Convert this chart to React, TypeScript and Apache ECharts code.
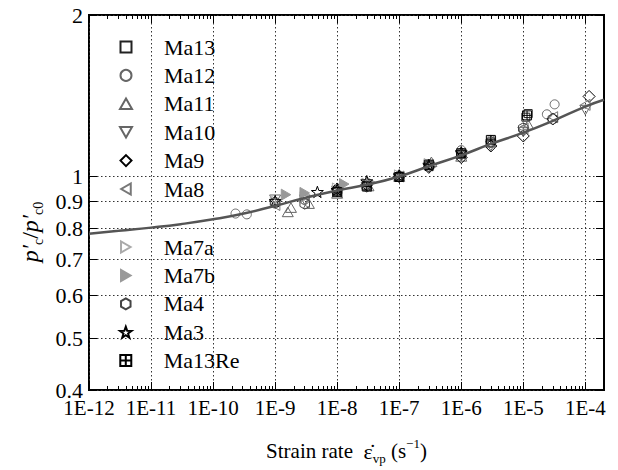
import React, { useEffect, useRef } from 'react';
import * as echarts from 'echarts';

// ---- axis ranges / tick labels ----
const X_MIN = 1e-12;
const X_MAX = 2e-4;
const Y_MIN = 0.4;
const Y_MAX = 2;
const X_MAJOR = [1e-12, 1e-11, 1e-10, 1e-9, 1e-8, 1e-7, 1e-6, 1e-5, 1e-4];
const X_MINOR_MULT = [2, 3, 4, 5, 6, 7, 8, 9];
const Y_TICKS = [0.4, 0.5, 0.6, 0.7, 0.8, 0.9, 1, 2];

// ---- fitted curve ----
const CURVE_RATE = [1e-12, 3e-12, 1e-11, 3e-11, 1e-10, 3e-10, 1e-9, 3e-9, 1e-8, 3e-8, 1e-7, 3e-7, 1e-6, 3e-6, 1e-5, 3e-5, 1e-4, 2e-4];
const CURVE_RATIO = [0.782, 0.792, 0.803, 0.815, 0.832, 0.852, 0.882, 0.912, 0.942, 0.965, 1.0, 1.045, 1.095, 1.15, 1.207, 1.27, 1.35, 1.39];

// ---- measured points [strain rate, p'c/p'c0] ----
const MA13 = [[1e-8, 0.938], [3e-8, 0.962], [1e-7, 0.998], [3e-7, 1.048], [1e-6, 1.1], [3e-6, 1.155], [1.1e-5, 1.29], [1.2e-5, 1.31]];
const MA12 = [[2.3e-10, 0.853], [3.5e-10, 0.85], [1e-9, 0.89], [3e-9, 0.905], [1e-8, 0.945], [3e-8, 0.97], [1e-7, 1.005], [3e-7, 1.055], [1e-6, 1.12], [3e-6, 1.17], [1e-5, 1.22], [2.4e-5, 1.306], [3.2e-5, 1.363]];
const MA11 = [[1.6e-9, 0.859], [1.8e-9, 0.875], [3.5e-9, 0.89], [1e-8, 0.93], [3.2e-8, 0.96], [1e-7, 1.0], [3.3e-7, 1.065], [1e-6, 1.09], [3e-6, 1.16], [1.2e-5, 1.25]];
const MA10 = [[1e-9, 0.905], [3e-9, 0.905], [1e-8, 0.94], [3e-8, 0.955], [1e-7, 0.995], [3e-7, 1.04], [1e-6, 1.09], [3e-6, 1.14], [1e-5, 1.21], [1e-4, 1.33]];
const MA9 = [[1e-8, 0.948], [3e-8, 0.965], [1e-7, 1.0], [3e-7, 1.04], [1e-6, 1.085], [3e-6, 1.14], [1e-5, 1.19], [3e-5, 1.28], [1.15e-4, 1.41]];
const MA8 = [[1e-9, 0.885], [3e-9, 0.895], [1e-8, 0.935], [3e-8, 0.96], [1e-7, 1.0], [3e-7, 1.05], [1e-6, 1.1], [3e-6, 1.16], [1e-5, 1.23], [3e-5, 1.29], [1e-4, 1.36]];
const MA7A = [[1e-9, 0.9], [3e-9, 0.915], [1e-8, 0.95], [3e-8, 0.97], [1e-7, 1.005], [3e-7, 1.055]];
const MA7B = [[1.5e-9, 0.925], [3e-9, 0.932], [1.3e-8, 0.968], [3.5e-8, 0.975]];
const MA4 = [[1e-9, 0.895], [3e-9, 0.89], [1e-8, 0.94], [3e-8, 0.958], [1e-7, 1.0], [3e-7, 1.045], [1e-6, 1.105], [3e-6, 1.16], [1e-5, 1.23], [3e-5, 1.28]];
const MA3 = [[1e-9, 0.9], [4.8e-9, 0.936], [1e-8, 0.945], [3e-8, 0.98], [1e-7, 1.005], [3e-7, 1.05], [1e-6, 1.11]];
const MA13RE = [[1e-8, 0.935], [3e-8, 0.958], [1e-7, 0.998], [3e-7, 1.052], [1e-6, 1.105], [3e-6, 1.17], [1.15e-5, 1.3]];

const NAMES_A = ['Ma13', 'Ma12', 'Ma11', 'Ma10', 'Ma9', 'Ma8'];
const NAMES_B = ['Ma7a', 'Ma7b', 'Ma4', 'Ma3', 'Ma13Re'];

const SYM_SQUARE = 'path://M0,0H10V10H0Z';
const SYM_UP = 'path://M1,0L2,1.732L0,1.732Z';
const SYM_DOWN = 'path://M0,0L2,0L1,1.732Z';
const SYM_LEFT = 'path://M1.732,0L1.732,2L0,1Z';
const SYM_RIGHT = 'path://M0,0L0,2L1.732,1Z';
const SYM_DIAMOND = 'path://M1,0L2,1L1,2L0,1Z';
const SYM_HEX = 'path://M0,-1L0.866,-0.5L0.866,0.5L0,1L-0.866,0.5L-0.866,-0.5Z';
const SYM_STAR = 'path://M0,-1L0.235,-0.324L0.951,-0.309L0.38,0.124L0.588,0.809L0,0.4L-0.588,0.809L-0.38,0.124L-0.951,-0.309L-0.235,-0.324Z';
const SYM_BOXPLUS = 'path://M0,0H10V10H0Z M5,0V10 M0,5H10';

const FONT = "'Liberation Serif', 'Times New Roman', serif";
const HOLLOW = 'rgba(255,255,255,0)';

const STYLES: Record<string, { data: number[][]; symbol: string; size: number; stroke: string; fill: string }> = {
  Ma13: { data: MA13, symbol: SYM_SQUARE, size: 8, stroke: '#222', fill: HOLLOW },
  Ma12: { data: MA12, symbol: 'circle', size: 9, stroke: '#666', fill: HOLLOW },
  Ma11: { data: MA11, symbol: SYM_UP, size: 11, stroke: '#666', fill: HOLLOW },
  Ma10: { data: MA10, symbol: SYM_DOWN, size: 11, stroke: '#666', fill: HOLLOW },
  Ma9: { data: MA9, symbol: SYM_DIAMOND, size: 12, stroke: '#000', fill: HOLLOW },
  Ma8: { data: MA8, symbol: SYM_LEFT, size: 11, stroke: '#777', fill: HOLLOW },
  Ma7a: { data: MA7A, symbol: SYM_RIGHT, size: 11, stroke: '#aaa', fill: HOLLOW },
  Ma7b: { data: MA7B, symbol: SYM_RIGHT, size: 11, stroke: '#999', fill: '#999' },
  Ma4: { data: MA4, symbol: SYM_HEX, size: 11, stroke: '#444', fill: HOLLOW },
  Ma3: { data: MA3, symbol: SYM_STAR, size: 12, stroke: '#000', fill: HOLLOW },
  Ma13Re: { data: MA13RE, symbol: SYM_BOXPLUS, size: 9, stroke: '#000', fill: HOLLOW },
};

function buildOption() {
  const xMinor: number[] = [];
  X_MAJOR.forEach((d) => X_MINOR_MULT.forEach((m) => {
    const v = d * m;
    if (v <= X_MAX) xMinor.push(v);
  }));

  const xLabel = (v: number) => {
    const e = Math.round(Math.log10(v));
    if (Math.abs(v / Math.pow(10, e) - 1) > 1e-6) return '';
    return '1E' + e;
  };

  const baseX = {
    type: 'log',
    logBase: 10,
    min: X_MIN,
    max: X_MAX,
    axisLine: { show: false },
    splitLine: { show: false },
    axisLabel: { show: false },
  };

  const legendCommon = {
    orient: 'vertical',
    left: 119,
    padding: 0,
    itemWidth: 12,
    itemHeight: 11,
    itemGap: 6.4,
    symbolKeepAspect: true,
    textStyle: { fontFamily: FONT, fontSize: 22, color: '#000', lineHeight: 20, padding: [0, 0, 0, 27] },
    selectedMode: false,
  };

  const scatter = [...NAMES_A, ...NAMES_B].map((name) => {
    const s = STYLES[name];
    return {
      name,
      type: 'scatter',
      xAxisIndex: 0,
      yAxisIndex: 0,
      data: s.data,
      symbol: s.symbol,
      symbolSize: s.size,
      symbolKeepAspect: true,
      itemStyle: { color: s.fill, borderColor: s.stroke, borderWidth: 1, opacity: 1 },
      z: 2,
    };
  });

  const tickStyle = { color: '#000', width: 1 };

  return {
    animation: false,
    backgroundColor: '#fff',
    textStyle: { fontFamily: FONT },
    grid: { left: 89, right: 14, top: 15, bottom: 78, show: true, borderColor: '#000', borderWidth: 2, containLabel: false, backgroundColor: 'transparent' },
    legend: [
      { ...legendCommon, top: 36, data: NAMES_A },
      { ...legendCommon, top: 236, data: NAMES_B },
    ],
    xAxis: [
      {
        ...baseX,
        position: 'bottom',
        axisTick: { show: true, inside: true, length: 8, lineStyle: tickStyle, customValues: X_MAJOR },
        axisLabel: { show: true, customValues: X_MAJOR, formatter: xLabel, color: '#000', fontFamily: FONT, fontSize: 21, margin: 7 },
        splitLine: { show: true, lineStyle: { color: '#333', type: [1.5, 2.5], width: 1 } },
        name: '{t|Strain rate  }{e|ε̇}{s|vp}{t| (s}{p|−1}{t|)}',
        nameLocation: 'middle',
        nameGap: 47,
        nameTextStyle: {
          color: '#000',
          fontFamily: FONT,
          rich: {
            t: { fontFamily: FONT, fontSize: 21, color: '#000', lineHeight: 28, verticalAlign: 'middle' },
            e: { fontFamily: FONT, fontSize: 22, color: '#000', lineHeight: 28, verticalAlign: 'middle' },
            s: { fontFamily: FONT, fontSize: 13, color: '#000', lineHeight: 28, verticalAlign: 'bottom' },
            p: { fontFamily: FONT, fontSize: 13, color: '#000', lineHeight: 28, verticalAlign: 'top' },
          },
        },
      },
      {
        ...baseX,
        position: 'bottom',
        axisTick: { show: true, inside: true, length: 4, lineStyle: tickStyle, customValues: xMinor },
      },
      {
        ...baseX,
        position: 'top',
        axisTick: { show: true, inside: true, length: 8, lineStyle: tickStyle, customValues: X_MAJOR },
      },
      {
        ...baseX,
        position: 'top',
        axisTick: { show: true, inside: true, length: 4, lineStyle: tickStyle, customValues: xMinor },
      },
    ],
    yAxis: [
      {
        type: 'log',
        logBase: 10,
        min: Y_MIN,
        max: Y_MAX,
        position: 'left',
        axisLine: { show: false },
        axisTick: { show: true, inside: true, length: 8, lineStyle: tickStyle, customValues: Y_TICKS },
        axisLabel: { show: true, customValues: Y_TICKS, formatter: (v: number) => String(+Number(v).toPrecision(3)), color: '#000', fontFamily: FONT, fontSize: 22, margin: 6 },
        splitLine: { show: true, lineStyle: { color: '#333', type: [1.5, 2.5], width: 1 } },
      },
      {
        type: 'log',
        logBase: 10,
        min: Y_MIN,
        max: Y_MAX,
        position: 'right',
        axisLine: { show: false },
        axisTick: { show: true, inside: true, length: 8, lineStyle: tickStyle, customValues: Y_TICKS },
        axisLabel: { show: false },
        splitLine: { show: false },
      },
    ],
    graphic: [
      {
        type: 'text',
        x: 30,
        y: 232,
        rotation: Math.PI / 2,
        style: {
          text: '{i|p′}{s|c}{n|/}{i|p′}{s|c0}',
          align: 'center',
          verticalAlign: 'middle',
          rich: {
            i: { fontFamily: FONT, fontStyle: 'italic', fontSize: 24, fill: '#000', lineHeight: 30, verticalAlign: 'middle' },
            n: { fontFamily: FONT, fontSize: 24, fill: '#000', lineHeight: 30, verticalAlign: 'middle' },
            s: { fontFamily: FONT, fontSize: 14, fill: '#000', lineHeight: 30, verticalAlign: 'bottom' },
          },
        },
      },
    ],
    series: [
      ...scatter,
      {
        name: 'fit',
        type: 'line',
        xAxisIndex: 0,
        yAxisIndex: 0,
        data: CURVE_RATE.map((r, i) => [r, CURVE_RATIO[i]]),
        smooth: true,
        showSymbol: false,
        symbol: 'none',
        lineStyle: { color: '#555', width: 2.5 },
        z: 3,
        silent: true,
      },
    ],
  };
}

export default function App() {
  const ref = useRef<HTMLDivElement>(null);
  useEffect(() => {
    if (!ref.current) return;
    const chart = echarts.init(ref.current, null, { renderer: 'svg' });
    chart.setOption(buildOption() as any);
    return () => chart.dispose();
  }, []);
  return <div ref={ref} style={{ position: 'fixed', left: 0, top: 0, width: 618, height: 470 }} />;
}
